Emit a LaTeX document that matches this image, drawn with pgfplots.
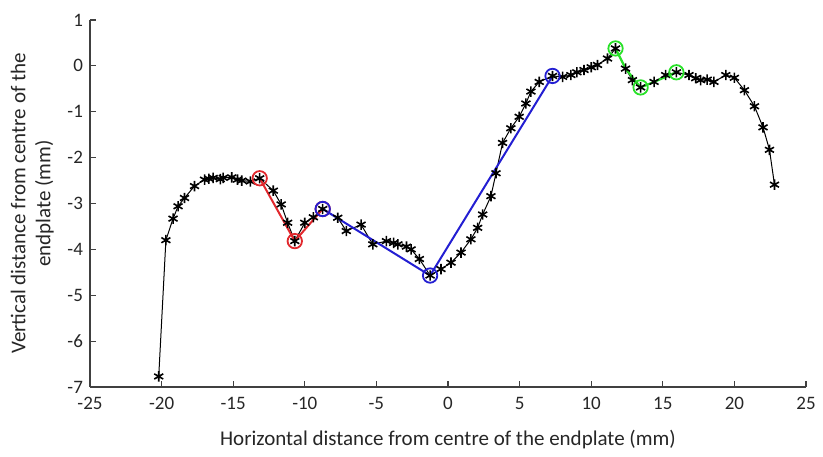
\documentclass[border=0pt]{standalone}
\usepackage{pgfplots}
\pgfplotsset{compat=1.18}
\usepackage{fontspec}
\setmainfont{Carlito}
\usetikzlibrary{calc}

\definecolor{mred}{RGB}{225,40,45}
\definecolor{mblue}{RGB}{35,30,210}
\definecolor{mgreen}{RGB}{40,225,40}

\begin{document}
\begin{tikzpicture}
\begin{axis}[
    name=ax,
    scale only axis,
    width=358pt, height=183.5pt,
    xmin=-25, xmax=25, ymin=-7, ymax=1,
    xtick={-25,-20,...,25},
    ytick={-7,-6,...,1},
    axis x line=bottom, axis y line=left,
    axis line style={-, draw=black!75, line width=0.6pt},
    tick align=inside,
    major tick length=3pt,
    tick style={draw=black!75, line width=0.6pt},
    /pgf/number format/assume math mode=true,
    ticklabel style={font=\fontsize{9.5}{11}\selectfont, text=black!85},
    xticklabel style={yshift=-1.5pt},
    xlabel={Horizontal distance from centre of the endplate (mm)},
    ylabel={Vertical distance from centre of the\\endplate (mm)},
    label style={font=\fontsize{10.5}{12.5}\selectfont, text=black!85},
    ylabel style={align=center, yshift=0pt},
    xlabel style={yshift=-3.5pt},
    clip=false,
]
% measured profile
\addplot[black, line width=0.5pt, mark=asterisk, mark size=2.6pt, mark options={line width=0.8pt}] coordinates {
(-20.2,-6.77) (-19.7,-3.80) (-19.2,-3.33) (-18.85,-3.06) (-18.4,-2.88)
(-17.7,-2.62) (-17.0,-2.48) (-16.7,-2.46) (-16.4,-2.44) (-15.9,-2.47) (-15.7,-2.44) (-15.1,-2.43)
(-14.7,-2.48) (-14.4,-2.50) (-13.8,-2.52) (-13.15,-2.45) (-12.2,-2.72) (-11.65,-3.02)
(-11.2,-3.42) (-10.7,-3.82) (-10.0,-3.42) (-9.4,-3.30) (-8.75,-3.12)
(-7.7,-3.31) (-7.1,-3.60) (-6.07,-3.46) (-5.25,-3.89) (-4.3,-3.82)
(-3.8,-3.86) (-3.5,-3.89) (-2.9,-3.94) (-2.58,-4.00) (-2.0,-4.21) (-1.25,-4.57) (-0.49,-4.43)
(0.21,-4.29) (0.91,-4.07) (1.6,-3.78) (2.07,-3.53) (2.42,-3.24)
(3.0,-2.84) (3.35,-2.34) (3.81,-1.68) (4.39,-1.36) (4.97,-1.11)
(5.44,-0.82) (5.79,-0.56) (6.37,-0.35) (7.3,-0.22) (8.0,-0.24) (8.58,-0.20)
(9.0,-0.14) (9.5,-0.09) (10.0,-0.03) (10.44,0.02) (11.14,0.16) (11.7,0.38) (12.4,-0.06)
(12.88,-0.31) (13.45,-0.47) (14.39,-0.35) (15.2,-0.20) (15.95,-0.14)
(16.83,-0.20) (17.3,-0.27) (17.64,-0.31) (18.1,-0.30) (18.57,-0.35) (19.4,-0.20) (20.0,-0.26)
(20.7,-0.53) (21.4,-0.88) (22.0,-1.34) (22.45,-1.83) (22.8,-2.59)
};
% fitted segments
\addplot[mred, line width=1pt, mark=o, mark size=3.6pt, mark options={line width=0.9pt}] coordinates {
(-13.15,-2.45) (-10.7,-3.82) (-8.75,-3.12)
};
\addplot[mblue, line width=1pt, mark=o, mark size=3.6pt, mark options={line width=0.9pt}] coordinates {
(-8.75,-3.12) (-1.25,-4.57) (7.3,-0.22)
};
\addplot[mgreen, line width=1.1pt, mark=o, mark size=3.6pt, mark indices={1,3,5}, mark options={line width=0.9pt}] coordinates {
(11.7,0.38) (12.4,-0.06) (13.45,-0.47) (14.39,-0.35) (15.95,-0.14)
};
\end{axis}
\pgfresetboundingbox
\path[use as bounding box] ([xshift=-45pt,yshift=-35pt]ax.south west) rectangle ([xshift=8.5pt,yshift=10pt]ax.north east);
\end{tikzpicture}
\end{document}
